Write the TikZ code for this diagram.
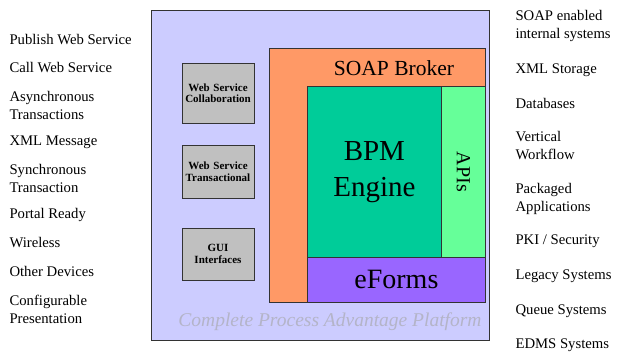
\documentclass[tikz,border=0pt]{standalone}
\usepackage{fontspec}
\setmainfont{Liberation Serif}
\definecolor{platformfill}{HTML}{CCCCFF}
\definecolor{soapfill}{HTML}{FF9966}
\definecolor{enginefill}{HTML}{00CC99}
\definecolor{apifill}{HTML}{66FF99}
\definecolor{formsfill}{HTML}{9966FF}
\definecolor{servicefill}{HTML}{C0C0C0}
\definecolor{markgray}{HTML}{B4B4C8}
\tikzset{
  block/.style={draw=black!80, line width=0.8pt, anchor=north west, inner sep=0pt},
  service/.style={block, fill=servicefill, font=\fontsize{11}{11.5}\selectfont\bfseries,
    align=center, text width=72pt, anchor=center},
  item/.style={anchor=west, align=left, font=\fontsize{14.7}{18}\selectfont}
}
\begin{document}
\begin{tikzpicture}[x=1pt,y=-1pt]
      \useasboundingbox (0,0) rectangle (621,352);
      % platform and the nested blocks
      \node[block, fill=platformfill, minimum width=338pt, minimum height=330pt] (platform) at (151,10) {};
      \node[block, fill=soapfill, minimum width=216pt, minimum height=254pt] (soap) at (269,48) {};
      \node[block, fill=enginefill, minimum width=134pt, minimum height=171pt] (engine) at (307,86) {};
      \node[block, fill=apifill, minimum width=44pt, minimum height=171pt] (apis) at (441,86) {};
      \node[block, fill=formsfill, minimum width=178pt, minimum height=45pt] (eforms) at (307,257) {};
      \node[font=\fontsize{21.5}{22}\selectfont] (soaplabel) at (394,68) {SOAP Broker};
      \node[font=\fontsize{29}{36}\selectfont, align=center] (enginelabel) at (engine.center) {BPM\\Engine};
      \node[font=\fontsize{20}{20}\selectfont, rotate=-90] (apilabel) at (apis.center) {APIs};
      \node[font=\fontsize{28}{28}\selectfont] (formslabel) at (eforms.center) {eForms};
      \node[font=\fontsize{19.5}{20}\selectfont\itshape, text=markgray] (mark) at (330,322) {Complete Process Advantage Platform};
      % services on the left of the platform
      \node[service, minimum height=60pt] (collab) at (218,93) {Web Service\\Collaboration};
      \node[service, minimum height=53pt] (trans) at (218,171.5) {Web Service\\Transactional};
      \node[service, minimum height=52pt] (gui) at (218,254) {GUI\\Interfaces};
      % left column
      \draw
        (6,40) node[item] (l1){Publish Web Service}
        (6,68) node[item] (l2){Call Web Service}
        (6,105) node[item] (l3){Asynchronous\\Transactions}
        (6,142) node[item] (l4){XML Message}
        (6,178.5) node[item] (l5){Synchronous\\Transaction}
        (6,215) node[item] (l6){Portal Ready}
        (6,243) node[item] (l7){Wireless}
        (6,271) node[item] (l8){Other Devices}
        (6,309) node[item] (l9){Configurable\\Presentation};
      % right column
      \draw
        (512,26) node[item] (r1){SOAP enabled\\internal systems}
        (512,70) node[item] (r2){XML Storage}
        (512,103) node[item] (r3){Databases}
        (512,146) node[item] (r4){Vertical\\Workflow}
        (512,199) node[item] (r5){Packaged\\Applications}
        (512,241) node[item] (r6){PKI / Security}
        (512,276) node[item] (r7){Legacy Systems}
        (512,311) node[item] (r8){Queue Systems}
        (512,345) node[item] (r9){EDMS Systems};
    \end{tikzpicture}
\end{document}
